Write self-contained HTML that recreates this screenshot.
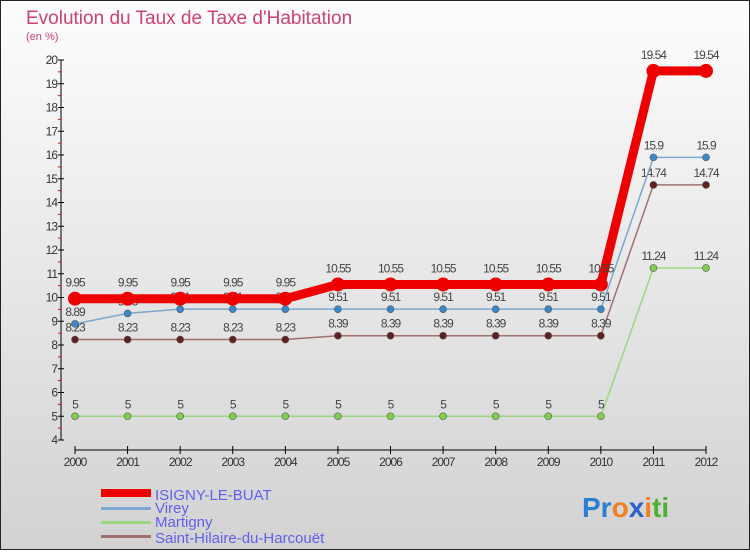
<!DOCTYPE html>
<html><head><meta charset="utf-8"><style>
body{margin:0}
svg text{font-family:"Liberation Sans",sans-serif}
</style></head><body>
<svg id="c" width="750" height="550" xmlns="http://www.w3.org/2000/svg">
<defs><linearGradient id="bg" x1="0" y1="0" x2="0" y2="1"><stop offset="0" stop-color="#fdfdfd"/><stop offset="1" stop-color="#d2d2d2"/></linearGradient></defs>
<rect x="0.5" y="0.5" width="749" height="549" fill="url(#bg)" stroke="#222"/>
<text x="26" y="24" font-size="19" fill="#d04070">Evolution du Taux de Taxe d'Habitation</text>
<text x="26" y="40" font-size="11" fill="#d04070">(en %)</text>
<g id="axes"></g><g id="series"></g>
<g>
<rect x="101" y="489" width="50" height="8" fill="#e00"/>
<text x="155" y="500" font-size="15" fill="#6060ee">ISIGNY-LE-BUAT</text>
<rect x="101" y="507" width="50" height="3" fill="#7aa8d0"/>
<text x="155" y="513" font-size="15" fill="#6060ee">Virey</text>
<rect x="101" y="521" width="50" height="3" fill="#9ad880"/>
<text x="155" y="527" font-size="15" fill="#6060ee">Martigny</text>
<rect x="101" y="535" width="50" height="3" fill="#a07070"/>
<text x="155" y="543" font-size="15" fill="#6060ee">Saint-Hilaire-du-Harcouët</text>
</g>
<text x="582" y="517" font-size="28" font-weight="bold"><tspan fill="#2a7fd0">Pr</tspan><tspan fill="#f08020">o</tspan><tspan fill="#2a60d0">x</tspan><tspan fill="#f08020">i</tspan><tspan fill="#50b030">ti</tspan></text>
</svg>
<script>
const years=[2000,2001,2002,2003,2004,2005,2006,2007,2008,2009,2010,2011,2012];
const isigny=[9.95,9.95,9.95,9.95,9.95,10.55,10.55,10.55,10.55,10.55,10.55,19.54,19.54];
const virey=[8.89,9.33,9.51,9.51,9.51,9.51,9.51,9.51,9.51,9.51,9.51,15.9,15.9];
const martigny=[5,5,5,5,5,5,5,5,5,5,5,11.24,11.24];
const hilaire=[8.23,8.23,8.23,8.23,8.23,8.39,8.39,8.39,8.39,8.39,8.39,14.74,14.74];
const yTicks=[4,5,6,7,8,9,10,11,12,13,14,15,16,17,18,19,20];
const NS="http://www.w3.org/2000/svg";
const x=i=>75+i*(706-75)/(years.length-1);
const y=v=>440-(v-4)*(380/16);
function mk(t,a,p){const e=document.createElementNS(NS,t);for(const k in a)e.setAttribute(k,a[k]);p.appendChild(e);return e;}
const ax=document.getElementById('axes');
let l=mk('line',{x1:61,y1:60,x2:61,y2:440,stroke:'#000'},ax);


yTicks.forEach(v=>{
 mk('line',{x1:58,x2:64,y1:y(v),y2:y(v),stroke:'#000'},ax);
 if(v<20)mk('line',{x1:58,x2:61,y1:y(v+0.5),y2:y(v+0.5),stroke:'#e00'},ax);
 const t=mk('text',{x:57,y:y(v)+4,'font-size':12,'text-anchor':'end',fill:'#333','letter-spacing':'-1'},ax);
 
 
 t.textContent=v;
});
l=mk('line',{x1:75,y1:450,x2:706,y2:450,stroke:'#000'},ax);


years.forEach((yr,i)=>{
 mk('line',{x1:x(i),x2:x(i),y1:446,y2:454,stroke:'#000'},ax);
 const t=mk('text',{x:x(i),y:466,'font-size':12,'text-anchor':'middle',fill:'#333','letter-spacing':'-1'},ax);
 
 
 t.textContent=yr;
});
const sg=document.getElementById('series');
function series(name,vals,color,w,r,fill){
 const g=mk('g',{},sg);
 
 
 mk('polyline',{points:vals.map((v,i)=>x(i)+','+y(v)).join(' '),fill:'none',stroke:color,'stroke-width':w},g);
 vals.forEach((v,i)=>{
  const c=mk('circle',{cx:x(i),cy:y(v),r:r,fill:fill,stroke:'#555','stroke-width':r>4?0:0.6},g);
  
  
  const t=mk('text',{x:x(i),y:y(v)-8-(r>4?4:0),'font-size':12,'text-anchor':'middle',fill:'#444','letter-spacing':'-1'},g);
  
  
  t.textContent=v;
 });
}
series('martigny',martigny,'#9ad880',1.5,3.5,'#80d050');
series('saint-hilaire',hilaire,'#a07070',1.5,3.5,'#602020');
series('virey',virey,'#7aa8d0',1.5,3.5,'#3a88cc');
series('isigny',isigny,'#e00',9,7,'#e00');
</script>
</body></html>
